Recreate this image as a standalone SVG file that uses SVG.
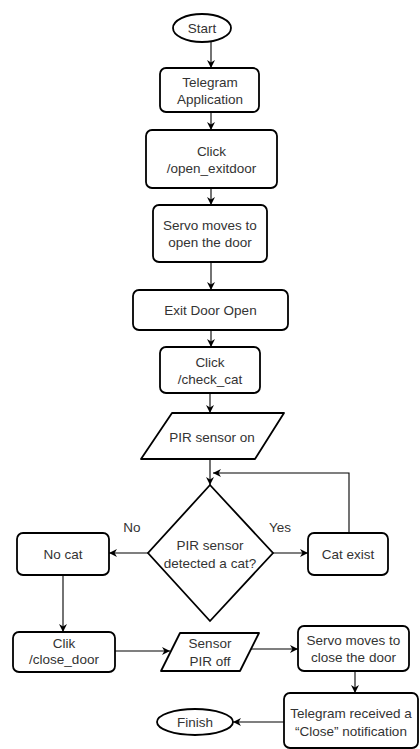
<svg xmlns="http://www.w3.org/2000/svg" width="420" height="749" viewBox="0 0 420 749">
<defs>
<style>
.n{fill:#fff;stroke:#000;stroke-width:1.8}
.t{font-family:"Liberation Sans",Arial,sans-serif;font-size:13.5px;fill:#333;text-anchor:middle}
.c{fill:none;stroke:#000;stroke-width:1.1}
</style>
<marker id="ah" viewBox="0 0 10 10" refX="10" refY="5" markerWidth="8" markerHeight="8" markerUnits="userSpaceOnUse" orient="auto">
<path d="M0,0 L10,5 L0,10 L3,5 z" fill="#000"/>
</marker>
</defs>
<rect width="420" height="749" fill="#fff"/>
<g id="connectors">
<path class="c" d="M211,42 V68" marker-end="url(#ah)"/>
<path class="c" d="M211,112 V130" marker-end="url(#ah)"/>
<path class="c" d="M211,188 V205" marker-end="url(#ah)"/>
<path class="c" d="M211,262 V290" marker-end="url(#ah)"/>
<path class="c" d="M211,330 V347" marker-end="url(#ah)"/>
<path class="c" d="M210,393 V413" marker-end="url(#ah)"/>
<path class="c" d="M210,459 V485" marker-end="url(#ah)"/>
<path class="c" d="M349,533 V473 H213" marker-end="url(#ah)"/>
<path class="c" d="M148,553 H109" marker-end="url(#ah)"/>
<path class="c" d="M273,553 H308" marker-end="url(#ah)"/>
<path class="c" d="M63,575 V632" marker-end="url(#ah)"/>
<path class="c" d="M115,651 H170" marker-end="url(#ah)"/>
<path class="c" d="M250,649 H298" marker-end="url(#ah)"/>
<path class="c" d="M355,671 V693" marker-end="url(#ah)"/>
<path class="c" d="M284,722 H233" marker-end="url(#ah)"/>
</g>
<g id="start">
<ellipse class="n" cx="202" cy="28" rx="29" ry="14"/>
<text class="t" x="202" y="32.5">Start</text>
</g>
<g id="telegram-app">
<rect class="n" x="160" y="68" width="99" height="44" rx="6"/>
<text class="t" x="210" y="86.5">Telegram</text>
<text class="t" x="210" y="103.5">Application</text>
</g>
<g id="click-open">
<rect class="n" x="146" y="130" width="131" height="58" rx="6"/>
<text class="t" x="211.5" y="155.5">Click</text>
<text class="t" x="211.5" y="172.5">/open_exitdoor</text>
</g>
<g id="servo-open">
<rect class="n" x="153" y="205" width="114" height="57" rx="6"/>
<text class="t" x="210" y="229.5">Servo moves to</text>
<text class="t" x="210" y="246.5">open the door</text>
</g>
<g id="exit-door-open">
<rect class="n" x="133" y="290" width="155" height="40" rx="6"/>
<text class="t" x="210.5" y="314.5">Exit Door Open</text>
</g>
<g id="click-check">
<rect class="n" x="160" y="347" width="100" height="46" rx="6"/>
<text class="t" x="210" y="366.5">Click</text>
<text class="t" x="210" y="383.5">/check_cat</text>
</g>
<g id="pir-on">
<path class="n" d="M172,413 H284 L255,459 H141 Z" stroke-linejoin="round"/>
<text class="t" x="212" y="441.5">PIR sensor on</text>
</g>
<g id="decision">
<path class="n" d="M210,485 L273,553 L210,621 L148,553 Z"/>
<text class="t" x="210" y="549.5">PIR sensor</text>
<text class="t" x="210" y="567.5">detected a cat?</text>
</g>
<text class="t" x="132" y="532">No</text>
<text class="t" x="280" y="532">Yes</text>
<g id="no-cat">
<rect class="n" x="17" y="533" width="92" height="42" rx="6"/>
<text class="t" x="63" y="558.5">No cat</text>
</g>
<g id="cat-exist">
<rect class="n" x="308" y="533" width="80" height="42" rx="6"/>
<text class="t" x="348" y="558.5">Cat exist</text>
</g>
<g id="clik-close">
<rect class="n" x="13" y="632" width="102" height="40" rx="6"/>
<text class="t" x="64" y="647.5">Clik</text>
<text class="t" x="64" y="663.5">/close_door</text>
</g>
<g id="sensor-off">
<path class="n" d="M180,633 H259 L240,671 H161 Z" stroke-linejoin="round"/>
<text class="t" x="210" y="647.5">Sensor</text>
<text class="t" x="210" y="665.5">PIR off</text>
</g>
<g id="servo-close">
<rect class="n" x="298" y="626" width="111" height="45" rx="6"/>
<text class="t" x="353.5" y="644.5">Servo moves to</text>
<text class="t" x="353.5" y="661.5">close the door</text>
</g>
<g id="telegram-received">
<rect class="n" x="284" y="693" width="134" height="55" rx="6"/>
<text class="t" x="351" y="717.5">Telegram received a</text>
<text class="t" x="351" y="735.5">“Close” notification</text>
</g>
<g id="finish">
<ellipse class="n" cx="195" cy="722" rx="38" ry="13"/>
<text class="t" x="195" y="726.5">Finish</text>
</g>
</svg>
